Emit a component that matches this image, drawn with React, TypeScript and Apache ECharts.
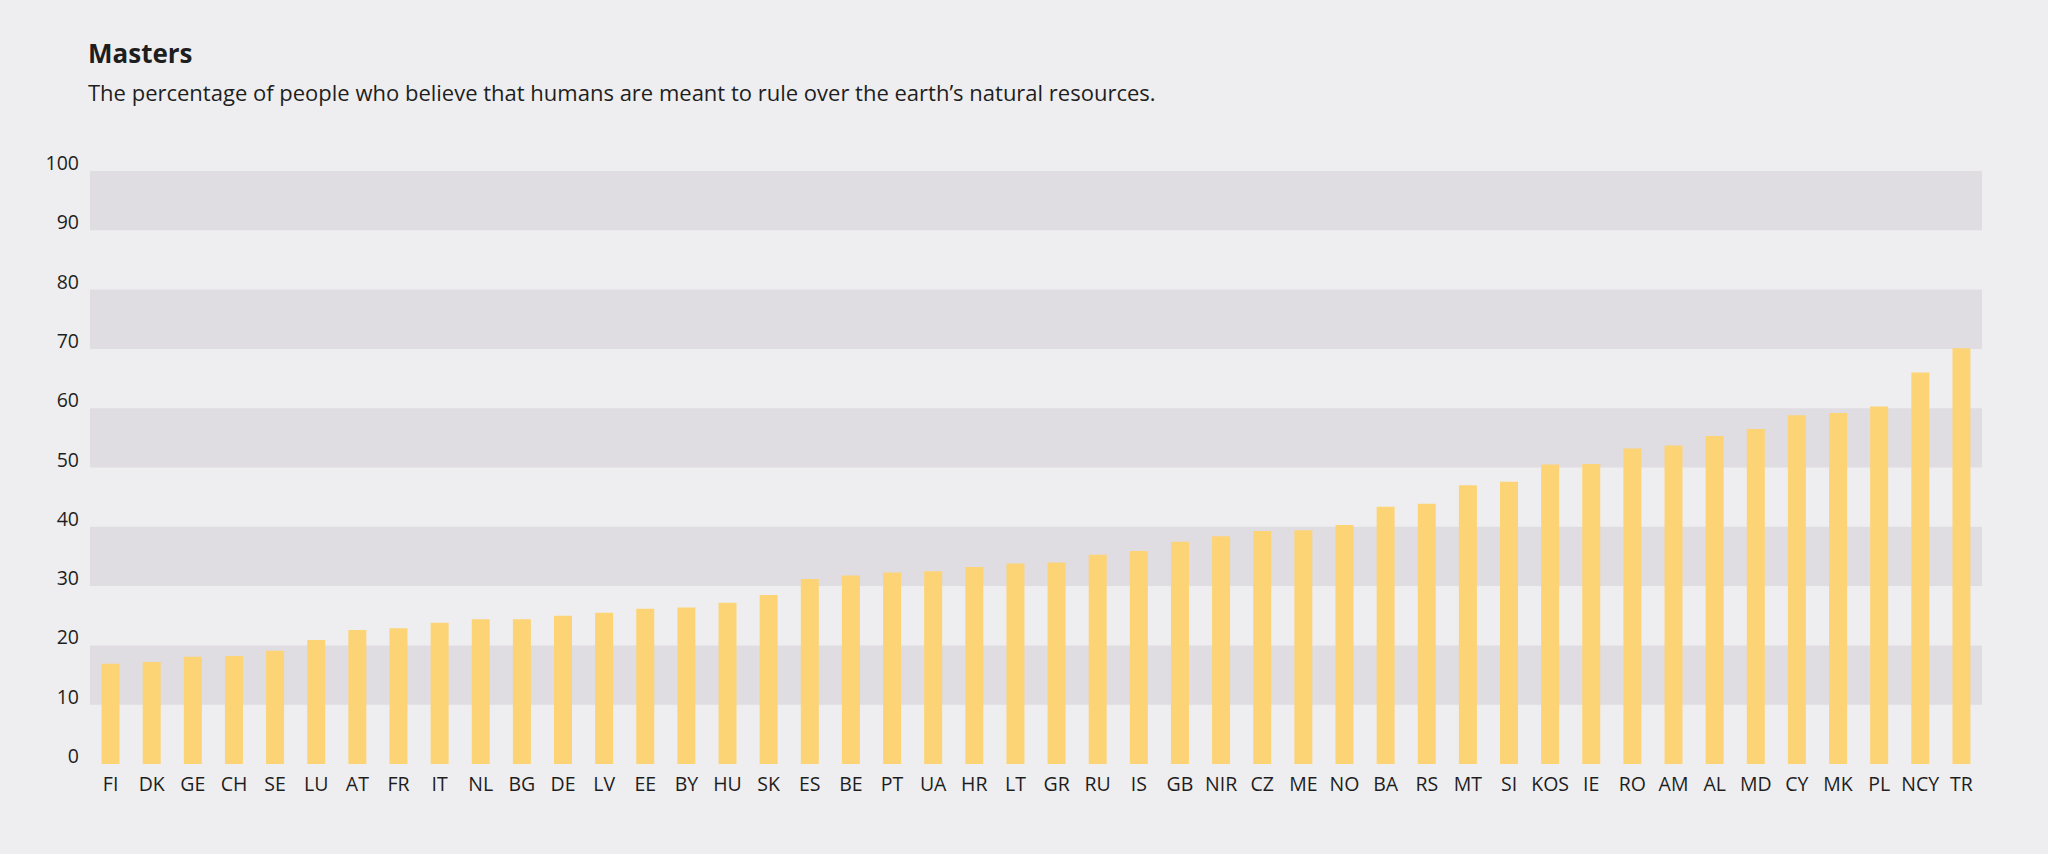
import React, { useEffect, useRef } from "react";
import * as echarts from "echarts";

const categories = [
  "FI", "DK", "GE", "CH", "SE", "LU", "AT", "FR", "IT", "NL", "BG", "DE", "LV", "EE", "BY", "HU",
  "SK", "ES", "BE", "PT", "UA", "HR", "LT", "GR", "RU", "IS", "GB", "NIR", "CZ", "ME", "NO",
  "BA", "RS", "MT", "SI", "KOS", "IE", "RO", "AM", "AL", "MD", "CY", "MK", "PL", "NCY", "TR",
];

const values = [
  16.9, 17.2, 18.1, 18.2, 19.1, 20.9, 22.6, 22.9, 23.8, 24.4, 24.4, 25.0, 25.5, 26.2, 26.4, 27.2,
  28.5, 31.2, 31.8, 32.3, 32.5, 33.2, 33.8, 34.0, 35.3, 35.9, 37.5, 38.4, 39.3, 39.4, 40.3,
  43.4, 43.9, 47.0, 47.6, 50.5, 50.6, 53.2, 53.7, 55.3, 56.5, 58.8, 59.2, 60.3, 66.0, 70.1,
];

const titleText = "Masters";
const subtitleText =
  "The percentage of people who believe that humans are meant to rule over the earth\u2019s natural resources.";

const FONT = "'Open Sans', 'Noto Sans', sans-serif";

export default function App() {
  const ref = useRef<HTMLDivElement>(null);

  useEffect(() => {
    if (!ref.current) return;
    const chart = echarts.init(ref.current, undefined, { renderer: "svg" });
    chart.setOption({
      animation: false,
      backgroundColor: "#eeeef0",
      textStyle: { fontFamily: FONT },
      graphic: [
        {
          type: "text",
          left: 88,
          top: 40,
          style: {
            text: titleText,
            font: `bold 26px ${FONT}`,
            fill: "#1e1e1e",
          },
        },
        {
          type: "text",
          left: 88,
          top: 81,
          style: {
            text: subtitleText,
            font: `22px ${FONT}`,
            fill: "#1e1e1e",
          },
        },
      ],
      grid: { left: 90, right: 66, top: 171, bottom: 90, containLabel: false },
      xAxis: {
        type: "category",
        data: categories,
        axisLine: { show: false },
        axisTick: { show: false },
        axisLabel: {
          interval: 0,
          margin: 9,
          fontSize: 19.5,
          color: "#1e1e1e",
          fontFamily: FONT,
        },
      },
      yAxis: {
        type: "value",
        min: 0,
        max: 100,
        interval: 10,
        axisLine: { show: false },
        axisTick: { show: false },
        splitLine: { show: false },
        splitArea: {
          show: true,
          areaStyle: { color: ["rgba(0,0,0,0)", "#dfdce2"] },
        },
        axisLabel: {
          margin: 11,
          fontSize: 19.5,
          color: "#1e1e1e",
          fontFamily: FONT,
          verticalAlign: "bottom",
          lineHeight: 17,
        },
      },
      series: [
        {
          type: "bar",
          data: values,
          barWidth: 18,
          itemStyle: { color: "#fdd475" },
        },
      ],
    });
    return () => chart.dispose();
  }, []);

  return (
    <div
      ref={ref}
      style={{ position: "fixed", left: 0, top: 0, width: 2048, height: 854 }}
    />
  );
}
